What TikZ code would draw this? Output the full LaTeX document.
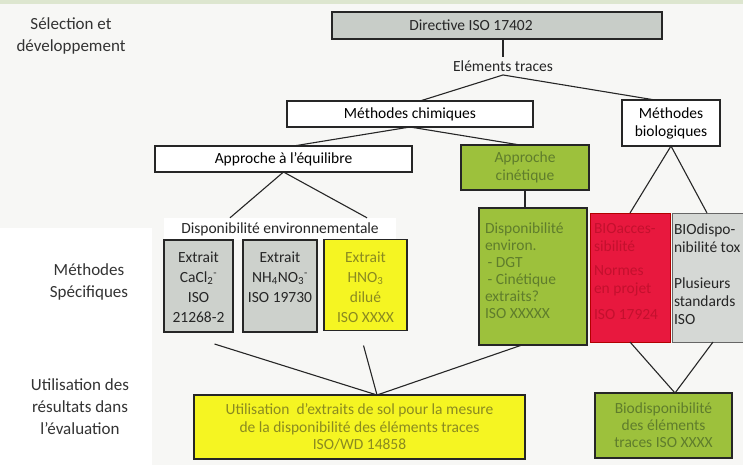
\documentclass[tikz,border=0pt]{standalone}
\usepackage{fontspec}
\setmainfont{Carlito}
\definecolor{bgc}{HTML}{F7F7F5}
\definecolor{topg}{HTML}{DDE6CF}
\definecolor{dirgrey}{HTML}{C8CDC8}
\definecolor{boxgrey}{HTML}{CDD1CC}
\definecolor{biogrey}{HTML}{D5D8D5}
\definecolor{boxgreen}{HTML}{9DC13C}
\definecolor{boxyellow}{HTML}{F5F522}
\definecolor{boxred}{HTML}{E8183E}
\definecolor{greentext}{HTML}{5F7D2C}
\definecolor{yellowtext}{HTML}{8A8A20}
\definecolor{redtext}{HTML}{C4102E}
\newcommand\bfont{\fontsize{15.5}{18}\selectfont}
\newcommand\lfont{\fontsize{17}{22}\selectfont}
\tikzset{
  bx/.style={draw=black!85, line width=1.1pt, inner sep=0pt, outer sep=0pt, font=\bfont, align=center},
  conn/.style={line width=1.1pt, draw=black!85},
  lbl/.style={font=\lfont, text=black!80, align=center},
  txt/.style={font=\bfont, text=black!85},
  coltext/.style={inner sep=0pt, outer sep=0pt, font=\fontsize{15.5}{20}\selectfont, align=center, anchor=north},
  listtext/.style={inner sep=0pt, outer sep=0pt, align=left, anchor=north west}
}
\begin{document}
\begin{tikzpicture}[x=1pt,y=-1pt]
\clip (0,0) rectangle (743,465);
\fill[white] (0,0) rectangle (743,465);
\fill[bgc] (0,0) rectangle (743,228);
\fill[bgc] (152,228) rectangle (743,465);
\fill[topg] (0,0) rectangle (743,4);

% left labels
\node[lbl] (l1) at (71,36) {Sélection et\\développement};
\node[lbl] (l2) at (89,282) {Méthodes\\Spécifiques};
\node[lbl] (l3) at (80,407) {Utilisation des\\résultats dans\\l’évaluation};

% top
\node[bx, fill=dirgrey, minimum width=330pt, minimum height=27pt] (dir) at (497,25.5) {};
\node[txt] (dirt) at (471,25.5) {Directive ISO 17402};
\node[txt] (el) at (503,66) {Eléments traces};
\draw[conn] (dir.south -| el.north) -- (el.north);

\node[bx, fill=white, minimum width=246pt, minimum height=26pt] (mc) at (410,114) {Méthodes chimiques};
\node[bx, fill=white, minimum width=98pt, minimum height=46pt] (mb) at (671,123) {Méthodes\\biologiques};
\draw[conn] ([xshift=10pt]mc.north) -- (el.south) -- ([xshift=-16pt]mb.north);

\node[bx, fill=white, minimum width=257pt, minimum height=26pt] (ae) at (283.5,159) {Approche à l’équilibre};
\node[bx, fill=boxgreen, text=greentext, minimum width=128pt, minimum height=45pt] (ac) at (525,167.5) {Approche\\cinétique};
\draw[conn] ([xshift=10pt]ae.north) -- (mc.south) -- ([xshift=-5pt]ac.north);

\node[txt, fill=white, minimum width=232pt, minimum height=22pt, inner sep=0pt] (de) at (280,229) {Disponibilité environnementale};
\draw[conn] ([xshift=-50pt]de.north) -- (ae.south) -- ([xshift=87pt]de.north);

% extract boxes
\node[bx, fill=boxgrey, minimum width=69pt, minimum height=92pt] (e1) at (198.5,286) {};
\node[coltext, text=black!85] (e1t) at (198.5,251.5) {Extrait\\CaCl\textsubscript{2}\textsuperscript{-}\\ISO\\21268-2};
\node[bx, fill=boxgrey, minimum width=74pt, minimum height=92pt] (e2) at (280,286) {};
\node[coltext, text=black!85] (e2t) at (280,251.5) {Extrait\\NH\textsubscript{4}NO\textsubscript{3}\textsuperscript{-}\\ISO 19730};
\node[bx, fill=boxyellow, minimum width=83pt, minimum height=91pt] (e3) at (365.5,285) {};
\node[coltext, text=yellowtext] (e3t) at (365.5,251.5) {Extrait\\HNO\textsubscript{3}\\dilué\\ISO XXXX};

% kinetic
\node[bx, fill=boxgreen, minimum width=108pt, minimum height=137pt] (dk) at (533,276.5) {};
\draw[conn] (ac.south) -- (ac.south |- dk.north);
\node[listtext, font=\fontsize{15.5}{17}\selectfont, text=greentext] (dkt) at (485,222.5) {Disponibilité\\environ.\\\,- DGT\\\,- Cinétique\\extraits?\\ISO XXXXX};

% biological
\node[bx, fill=boxred, draw=red!70!black, line width=0.8pt, minimum width=80pt, minimum height=129pt] (rb) at (630,277.5) {};
\node[bx, fill=biogrey, draw=black!60, line width=0.8pt, minimum width=78pt, minimum height=129pt] (gb) at (711,277.5) {};
\draw[conn] (rb.north) -- (mb.south) -- ([xshift=-4pt]gb.north);
\node[listtext, font=\fontsize{15.5}{18}\selectfont, text=redtext] (rbt) at (594,223.5) {BIOacces-\\sibilité\\[6pt]Normes\\en projet\\[8pt]ISO 17924};
\node[listtext, font=\fontsize{15.5}{18}\selectfont, text=black!85] (gbt) at (674,223.5) {BIOdispo-\\nibilité tox\\[18pt]Plusieurs\\standards\\ISO};

% bottom
\node[bx, fill=boxyellow, text=yellowtext, minimum width=331pt, minimum height=64pt, font=\fontsize{15.5}{17.5}\selectfont] (ut) at (359.5,427) {Utilisation\ \ d’extraits de sol pour la mesure\\de la disponibilité des éléments traces\\ISO/WD 14858};
\node[bx, fill=boxgreen, text=greentext, minimum width=137pt, minimum height=65pt, font=\fontsize{15.5}{17}\selectfont] (bd) at (663.5,425.5) {Biodisponibilité\\des éléments\\traces ISO XXXX};

\draw[conn] ([xshift=16pt,yshift=-12pt]e1.south) -- ([xshift=17.5pt]ut.north);
\draw[conn] ([xshift=-2pt,yshift=-15pt]e3.south) -- ([xshift=17.5pt]ut.north);
\draw[conn] ([xshift=-11pt]dk.south) -- ([xshift=17.5pt]ut.north);
\draw[conn] (rb.south) -- ([xshift=11.5pt]bd.north) -- ([xshift=2pt]gb.south);
\end{tikzpicture}
\end{document}
